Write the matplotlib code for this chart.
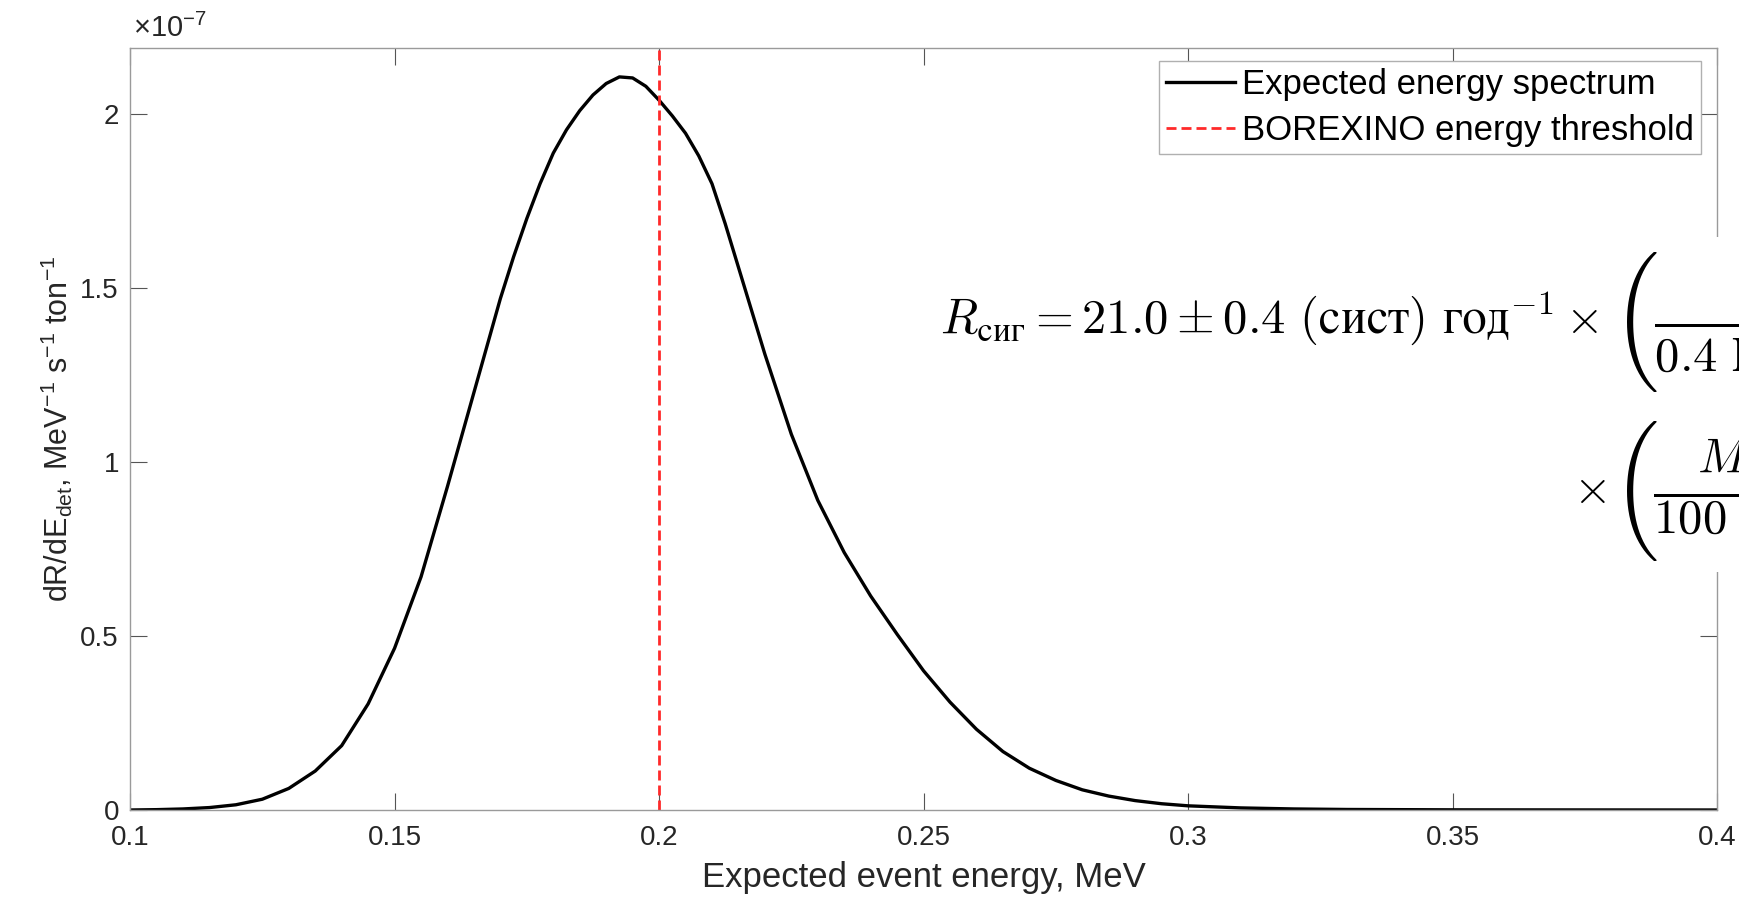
import numpy as np
import matplotlib.pyplot as plt
from matplotlib.patches import Rectangle

plt.rcParams['font.family'] = ['Liberation Sans', 'DejaVu Sans']
plt.rcParams['mathtext.fontset'] = 'custom'
plt.rcParams['mathtext.rm'] = 'Liberation Sans'
plt.rcParams['mathtext.it'] = 'Liberation Sans:italic'
plt.rcParams['mathtext.bf'] = 'Liberation Sans:bold'

# expected spectrum, rate in units of 1e-7
energy = [0.100, 0.105, 0.110, 0.115, 0.120, 0.125, 0.130, 0.135, 0.140, 0.145,
          0.150, 0.155, 0.160, 0.165, 0.170, 0.1725, 0.175, 0.1775, 0.180, 0.1825,
          0.185, 0.1875, 0.190, 0.1925, 0.195, 0.1975, 0.200, 0.2025, 0.205, 0.2075,
          0.210, 0.2125, 0.215, 0.2175, 0.220, 0.225, 0.230, 0.235, 0.240, 0.245,
          0.250, 0.255, 0.260, 0.265, 0.270, 0.275, 0.280, 0.285, 0.290, 0.295,
          0.300, 0.310, 0.320, 0.330, 0.350, 0.375, 0.400]
rate_e7 = [0.000, 0.001, 0.003, 0.007, 0.015, 0.031, 0.062, 0.112, 0.185, 0.305,
           0.465, 0.670, 0.930, 1.200, 1.470, 1.590, 1.700, 1.800, 1.888, 1.955,
           2.010, 2.055, 2.088, 2.107, 2.104, 2.080, 2.040, 1.995, 1.945, 1.880,
           1.800, 1.685, 1.560, 1.435, 1.310, 1.080, 0.890, 0.740, 0.615, 0.505,
           0.400, 0.310, 0.232, 0.168, 0.120, 0.085, 0.058, 0.040, 0.027, 0.018,
           0.012, 0.006, 0.003, 0.0015, 0.0005, 0.0002, 0.0]
threshold = 0.2

x_ticks = [0.1, 0.15, 0.2, 0.25, 0.3, 0.35, 0.4]
x_labels = ['0.1', '0.15', '0.2', '0.25', '0.3', '0.35', '0.4']
y_ticks = [0, 0.5, 1, 1.5, 2]
y_labels = ['0', '0.5', '1', '1.5', '2']

rate = np.array(rate_e7) * 1e-7

W, H = 1739, 901
fig = plt.figure(figsize=(W / 100, H / 100), dpi=100)
ax = fig.add_axes([0.0748, 0.1010, 0.9126, 0.8457])

ax.plot(energy, rate, color='black', lw=2.4, solid_joinstyle='round',
        label='Expected energy spectrum')
ax.axvline(threshold, color='#ff2a2a', ls=(0, (3.6, 1.8)), lw=2.0,
           label='BOREXINO energy threshold')

ax.set_xlim(0.1, 0.4)
ax.set_ylim(0, 2.19e-7)
ax.set_xticks(x_ticks)
ax.set_xticklabels(x_labels)
ax.set_yticks(np.array(y_ticks) * 1e-7)
ax.set_yticklabels(y_labels)

ax.tick_params(direction='in', length=12, width=0.8, top=True, right=True,
               color='#555555', labelcolor='#262626', labelsize=20)
ax.tick_params(axis='x', pad=11)
ax.tick_params(axis='y', pad=8)
for sp in ax.spines.values():
    sp.set_color('#9a9a9a')
    sp.set_linewidth(1.0)

ax.text(0.002, 1.006, '\u00d710$^{\\mathregular{-7}}$', transform=ax.transAxes,
        fontsize=21, color='#262626', ha='left', va='bottom')

ax.set_xlabel('Expected event energy, MeV', fontsize=25, color='#262626', labelpad=7)
ax.set_ylabel(r'dR/dE$_{\mathregular{det}}$, MeV$^{\mathregular{-1}}$ s$^{\mathregular{-1}}$ ton$^{\mathregular{-1}}$',
              fontsize=22, color='#262626')

leg = ax.legend(loc='upper right', bbox_to_anchor=(0.9899, 0.983), borderaxespad=0,
                fontsize=25, handlelength=2.0, handletextpad=0.2, borderpad=0.2,
                labelspacing=0.37, fancybox=False, framealpha=1, edgecolor='#b0b0b0')
leg.get_frame().set_linewidth(1.0)

# white block behind the formula (it hides the right spine in the original)
fig.patches.append(Rectangle((930 / W, 1 - 572 / H), (W - 930) / W, (572 - 237) / H,
                             transform=fig.transFigure, fc='white', ec='none', zorder=2))

# rate formula, cut off by the right edge as in the original
eq1 = (r'$R_{\mathrm{сиг}} = 21.0 \pm 0.4\ (\mathrm{сист})\ \mathrm{год}^{-1} \times\quad'
       r'\dfrac{\rho_{\chi}}{0.4\ \mathrm{ГэВ}\ \mathrm{см}^{-3}}$')
eq2 = r'$\times\quad\dfrac{M_{\mathrm{дет}}}{100\ \mathrm{тонн}}$'
# big opening brackets (their sizing content sits beyond the right edge)
paren = r'$\left(\qquad\qquad\qquad\dfrac{M}{M}\right.$'

fig.text(940 / W, 1 - 333 / H, eq1, fontsize=35, math_fontfamily='cm',
         ha='left', va='baseline', zorder=3)
fig.text(1573 / W, 1 - 503 / H, eq2, fontsize=35, math_fontfamily='cm',
         ha='left', va='baseline', zorder=3)
fig.text(1612 / W, 1 - 341 / H, paren, fontsize=60, math_fontfamily='cm',
         ha='left', va='baseline', zorder=4)
fig.text(1612 / W, 1 - 510 / H, paren, fontsize=60, math_fontfamily='cm',
         ha='left', va='baseline', zorder=4)

fig.savefig('out.png', dpi=100)
